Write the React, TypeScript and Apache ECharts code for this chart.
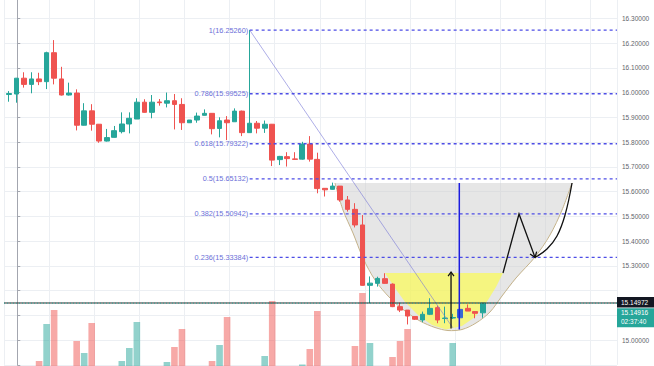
import React, { useEffect, useRef } from 'react';
import * as echarts from 'echarts';

// ---- candle data (index 1..64) ----
const opens = [15.992,15.994,16.058,16.033,16.055,16.044,16.161,16.055,15.990,15.998,15.868,15.926,15.872,15.804,15.819,15.842,15.873,15.893,15.961,15.920,15.962,15.957,15.967,15.952,15.878,15.889,15.908,15.916,15.855,15.889,15.882,15.925,15.838,15.876,15.856,15.872,15.729,15.741,15.732,15.731,15.792,15.730,15.613,15.609,15.622,15.566,15.528,15.465,15.221,15.229,15.248,15.226,15.135,15.121,15.095,15.081,15.104,15.131,15.087,15.089,15.090,15.128,15.115,15.110];
const closes = [15.996,16.058,16.033,16.055,16.044,16.161,16.058,15.990,15.998,15.868,15.926,15.872,15.804,15.818,15.846,15.873,15.896,15.961,15.920,15.961,15.959,15.967,15.952,15.878,15.889,15.905,15.916,15.854,15.886,15.878,15.925,15.838,15.876,15.856,15.872,15.727,15.742,15.733,15.730,15.792,15.731,15.612,15.607,15.622,15.566,15.528,15.465,15.221,15.230,15.249,15.229,15.135,15.121,15.097,15.084,15.104,15.128,15.081,15.089,15.091,15.124,15.117,15.108,15.149];
const lows = [15.963,15.959,16.020,15.997,16.030,16.014,16.033,15.988,15.988,15.847,15.867,15.846,15.797,15.802,15.818,15.835,15.835,15.893,15.919,15.896,15.947,15.940,15.851,15.849,15.877,15.878,15.907,15.831,15.819,15.808,15.882,15.824,15.837,15.835,15.837,15.703,15.707,15.701,15.729,15.729,15.721,15.593,15.580,15.608,15.559,15.519,15.455,15.220,15.149,15.216,15.228,15.133,15.113,15.063,15.081,15.072,15.101,15.068,15.068,15.085,15.089,15.117,15.088,15.090];
const highs = [16.006,16.059,16.082,16.082,16.080,16.165,16.212,16.104,16.040,16.013,15.957,15.953,15.873,15.853,15.865,15.920,15.920,15.977,15.973,15.990,15.974,16.000,15.994,15.977,15.889,15.919,15.932,15.917,15.900,15.905,15.936,15.927,16.2526,15.885,15.887,15.873,15.744,15.759,15.759,15.801,15.824,15.757,15.614,15.636,15.622,15.582,15.553,15.505,15.257,15.256,15.270,15.229,15.151,15.121,15.097,15.115,15.169,15.139,15.135,15.106,15.142,15.144,15.116,15.150];
const volumes = [0,0,0,0,5,42,56,0,0,25,13,43,0,0,0,5,18,44,0,0,0,4,19,37,0,0,0,5,21,49,0,0,0,0,10,65,0,0,0,1.5,17,55,0,0,0,0,20,73,23,0,0,9,25,37,0,0,0,0,0,23,0,0,0,0];

// ---- fibonacci retracement ----
const fibRatios = ['1', '0.786', '0.618', '0.5', '0.382', '0.236'];
const fibPrices = [16.2526, 15.99525, 15.79322, 15.65132, 15.50942, 15.33384];
const fibStartIndex = 33;

// ---- price labels ----
const markPrice = 15.14972;
const lastPrice = 15.14916;
const countdown = '02:37:40';
const highlightIndex = 61;

// ---- drawings (candle index, price) ----
const trendLine = [[33, 16.2526], [60, 15.05]];
const arcOuter = [[44.35,15.6345],[45.41,15.5254],[46.74,15.4325],[48.07,15.3315],[49.67,15.2426],[51.66,15.1699],[53.66,15.1173],[55.65,15.0769],[57.65,15.0506],[59.38,15.0385],[61.24,15.0426],[63.10,15.0688],[64.96,15.1133],[66.56,15.1780],[68.42,15.2507],[70.95,15.3355],[72.94,15.4244],[74.54,15.5254],[75.87,15.6345]];
const arcInner = [[51.0,15.2709],[52.33,15.2103],[53.66,15.1537],[55.39,15.1012],[57.25,15.0608],[59.11,15.0426],[61.24,15.0567],[62.97,15.0931],[64.70,15.1618],[65.76,15.2144],[66.69,15.2709]];
const riseArrow = [[59.78, 15.047], [59.78, 15.275]];
const blueLine = [[60.88, 15.0426], [60.88, 15.6345]];
const zigzag = [[66.69, 15.2709], [68.82, 15.5094], [70.95, 15.334]];
const curveUp = [[70.95, 15.334], [72.54, 15.3678], [73.87, 15.4203], [74.94, 15.5052], [75.87, 15.6345]];

const X_MIN = 0.335;
const X_MAX = 81.85;
const UP = '#26a69a';
const DOWN = '#ef5350';
const FONT = '"Liberation Sans", Arial, sans-serif';

function chevron(tip: number[], from: number[], len = 6, ang = Math.PI / 5) {
  const a = Math.atan2(from[1] - tip[1], from[0] - tip[0]);
  return [
    [tip[0] + len * Math.cos(a + ang), tip[1] + len * Math.sin(a + ang)],
    tip,
    [tip[0] + len * Math.cos(a - ang), tip[1] + len * Math.sin(a - ang)],
  ];
}

export default function App() {
  const ref = useRef<HTMLDivElement>(null);
  useEffect(() => {
    if (!ref.current) return;
    const chart = echarts.init(ref.current, null, { renderer: 'svg' });

    const candleData = opens.map((o, i) => {
      const item: any = { value: [i + 1, o, closes[i], lows[i], highs[i]] };
      if (i + 1 === highlightIndex) item.itemStyle = { color: '#3a68d4', borderColor: '#3a68d4' };
      return item;
    });
    const volData = volumes.map((v, i) => ({
      value: [i + 1, v],
      itemStyle: { color: closes[i] >= opens[i] ? 'rgba(38,166,154,0.5)' : 'rgba(239,83,80,0.5)' },
    }));

    const bgRender = (params: any, api: any) => {
      const c = (p: number[]) => api.coord(p);
      const outer = arcOuter.map(c);
      const inner = arcInner.map(c);
      return {
        type: 'group',
        children: [
          { type: 'polygon', shape: { points: outer }, style: { fill: 'rgba(205,205,205,0.5)' } },
          { type: 'polyline', shape: { points: outer, smooth: 0.3 }, style: { stroke: 'rgba(190,170,125,0.9)', lineWidth: 1, fill: 'none' } },
          { type: 'polygon', shape: { points: inner }, style: { fill: 'rgba(255,255,60,0.6)' } },
        ],
      };
    };

    const fgRender = (params: any, api: any) => {
      const c = (p: number[]) => api.coord(p);
      const ch: any[] = [];
      const line = (a: number[], b: number[], style: any) =>
        ch.push({ type: 'line', shape: { x1: a[0], y1: a[1], x2: b[0], y2: b[1] }, style });
      line(c(trendLine[0]), c(trendLine[1]), { stroke: 'rgba(120,120,215,0.6)', lineWidth: 1 });
      fibPrices.forEach((p, i) => {
        const a = c([fibStartIndex, p]);
        const b = c([X_MAX, p]);
        line(a, b, { stroke: '#4d4de6', lineWidth: 1.3, lineDash: [3, 3] });
        ch.push({
          type: 'text', x: a[0] - 1.5, y: a[1],
          style: { text: `${fibRatios[i]}(${p.toFixed(5)})`, fill: '#6b6fd8', font: `7.3px ${FONT}`, align: 'right', verticalAlign: 'middle' },
        });
      });
      line(c([X_MIN, markPrice]), c([X_MAX, markPrice]), { stroke: '#2e2e2e', lineWidth: 1 });
      line(c([X_MIN, lastPrice]), c([X_MAX, lastPrice]), { stroke: UP, lineWidth: 1, lineDash: [1, 2] });
      line(c(blueLine[0]), c(blueLine[1]), { stroke: '#1c1ce0', lineWidth: 1.5 });
      const r0 = c(riseArrow[0]);
      const r1 = c(riseArrow[1]);
      line(r0, r1, { stroke: '#111', lineWidth: 1.3 });
      ch.push({ type: 'polyline', shape: { points: chevron(r1, r0, 5) }, style: { stroke: '#111', lineWidth: 1.3, fill: 'none' } });
      const z = zigzag.map(c);
      ch.push({ type: 'polyline', shape: { points: z }, style: { stroke: '#111', lineWidth: 1.3, fill: 'none' } });
      ch.push({ type: 'polyline', shape: { points: chevron(z[2], z[1], 6) }, style: { stroke: '#111', lineWidth: 1.3, fill: 'none' } });
      ch.push({ type: 'polyline', shape: { points: curveUp.map(c), smooth: 0.4 }, style: { stroke: '#111', lineWidth: 1.3, fill: 'none' } });
      const xr = c([X_MAX, markPrice])[0];
      const ym = c([X_MAX, markPrice])[1];
      const yl = c([X_MAX, lastPrice])[1];
      ch.push({ type: 'rect', shape: { x: xr, y: ym - 6, width: 40, height: 10.5 }, style: { fill: '#131722' } });
      ch.push({ type: 'text', x: xr + 4, y: ym - 0.8, style: { text: markPrice.toFixed(5), fill: '#fff', font: `6.5px ${FONT}`, align: 'left', verticalAlign: 'middle' } });
      ch.push({ type: 'rect', shape: { x: xr, y: yl + 5, width: 40, height: 19 }, style: { fill: UP } });
      ch.push({ type: 'text', x: xr + 4, y: yl + 9.5, style: { text: lastPrice.toFixed(5), fill: '#fff', font: `6.5px ${FONT}`, align: 'left', verticalAlign: 'middle' } });
      ch.push({ type: 'text', x: xr + 4, y: yl + 18.5, style: { text: countdown, fill: '#fff', font: `6.5px ${FONT}`, align: 'left', verticalAlign: 'middle' } });
      return { type: 'group', children: ch };
    };

    const option: any = {
      animation: false,
      backgroundColor: '#ffffff',
      grid: [
        { left: 4, right: 37, top: -6.45, bottom: 1.2, outerBoundsMode: 'none', containLabel: false },
        { left: 4, right: 37, top: 266, bottom: 0, outerBoundsMode: 'none', containLabel: false },
      ],
      xAxis: [
        { type: 'value', gridIndex: 0, min: X_MIN, max: X_MAX, show: false },
        { type: 'value', gridIndex: 1, min: X_MIN, max: X_MAX, show: false },
        {
          type: 'value', gridIndex: 0, min: X_MIN - 2.1, max: X_MAX - 2.1, interval: 6,
          axisLine: { show: false }, axisTick: { show: false }, axisLabel: { show: false },
          splitLine: { show: true, lineStyle: { color: '#eceff3', width: 1 } },
        },
      ],
      yAxis: [
        {
          type: 'value', gridIndex: 0, position: 'right', min: 14.9, max: 16.4, interval: 0.1,
          axisLine: { show: true, lineStyle: { color: '#a3a6af' } },
          axisTick: { show: true, length: 3, lineStyle: { color: '#a3a6af' } },
          axisLabel: {
            formatter: (v: number) =>
              Math.abs(v - lastPrice) < 0.07 || v > 16.35 || v < 14.95 ? '' : v.toFixed(5),
            fontSize: 6.5, color: '#5f636b', margin: 5, fontFamily: FONT,
          },
          splitLine: { show: true, lineStyle: { color: '#eceff3', width: 1 } },
        },
        { type: 'value', gridIndex: 1, min: 0, max: 100, show: false },
      ],
      series: [
        { type: 'custom', xAxisIndex: 0, yAxisIndex: 0, z: 1, silent: true, clip: false, renderItem: bgRender, data: [[X_MIN, 15]] },
        { type: 'bar', xAxisIndex: 1, yAxisIndex: 1, z: 1, barWidth: 6.6, data: volData, silent: true },
        {
          type: 'candlestick', xAxisIndex: 0, yAxisIndex: 0, z: 3, barWidth: 5.2, data: candleData, silent: true,
          itemStyle: { color: UP, color0: DOWN, borderColor: UP, borderColor0: DOWN, borderWidth: 1 },
        },
        { type: 'custom', xAxisIndex: 0, yAxisIndex: 0, z: 6, silent: true, clip: false, renderItem: fgRender, data: [[X_MIN, 15]] },
      ],
    };
    chart.setOption(option);
    return () => chart.dispose();
  }, []);
  return <div ref={ref} style={{ position: 'fixed', left: 0, top: 0, width: 654, height: 366 }} />;
}
